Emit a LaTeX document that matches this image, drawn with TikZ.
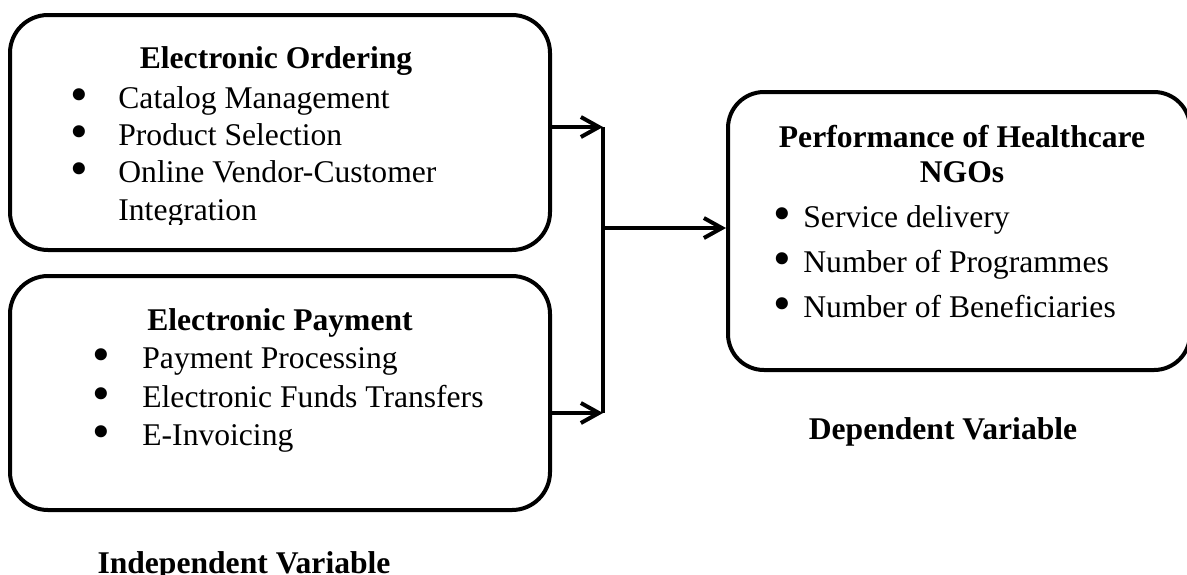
\documentclass[tikz,border=0pt]{standalone}
\usepackage{fontspec}
\setmainfont{Liberation Serif}
\usetikzlibrary{arrows.meta}
\newcommand{\bitem}[2]{\makebox[#1][l]{\smash{\raisebox{-1.6pt}{\scalebox{1.6}{\textbullet}}}}#2}

\begin{document}
\begin{tikzpicture}[x=0.5pt, y=-0.5pt,
  box/.style={draw, line width=2pt, rounded corners=19pt, inner sep=0pt},
  head/.style={anchor=base, inner sep=0pt, font=\fontsize{15.8}{18}\selectfont\bfseries},
  item/.style={anchor=base west, inner sep=0pt, font=\fontsize{15.8}{18}\selectfont},
  conn/.style={line width=2pt, -{Straight Barb[length=9pt, width=10pt]}}]
\useasboundingbox (0,0) rectangle (1187,574);

% Independent variables
\node[box, minimum width=270pt, minimum height=117.5pt] (ord) at (280,132.5) {};
\node[head] (ordT) at (276,68) {Electronic Ordering};
\node[item] (ord1) at (70,108) {\bitem{24pt}{Catalog Management}};
\node[item] (ord2) at (70,145) {\bitem{24pt}{Product Selection}};
\node[item] (ord3) at (70,182) {\bitem{24pt}{Online Vendor-Customer}};
\begin{scope}
\clip (100,190) rectangle (400,224);
\node[item] (ord4) at (118,220) {Integration};
\end{scope}

\node[box, minimum width=270pt, minimum height=117pt] (pay) at (280,393) {};
\node[head] (payT) at (280,330) {Electronic Payment};
\node[item] (pay1) at (92,368) {\bitem{25pt}{Payment Processing}};
\node[item] (pay2) at (92,407) {\bitem{25pt}{Electronic Funds Transfers}};
\node[item] (pay3) at (92,445) {\bitem{25pt}{E-Invoicing}};

\node[head] (indep) at (244,573) {Independent Variable};

% Dependent variable
\node[box, rounded corners=18pt, minimum width=231pt, minimum height=139pt] (perf) at (959,231) {};
\node[head] (perfT) at (962,147) {Performance of Healthcare};
\node[head] (perfT2) at (962,182) {NGOs};
\node[item] (perf1) at (773,227) {\bitem{15pt}{Service delivery}};
\node[item] (perf2) at (773,272) {\bitem{15pt}{Number of Programmes}};
\node[item] (perf3) at (773,317) {\bitem{15pt}{Number of Beneficiaries}};

\node[head] (dep) at (943,439) {Dependent Variable};

% Connectors
\coordinate (jt) at (603,127);
\coordinate (jm) at (603,228);
\coordinate (jb) at (603,413);
\draw[conn] (ord.east |- jt) -- (jt);
\draw[conn] (pay.east |- jb) -- (jb);
\draw[line width=2pt] (jt) -- (jb);
\draw[conn] (jm) -- (perf.west |- jm);
\end{tikzpicture}
\end{document}
